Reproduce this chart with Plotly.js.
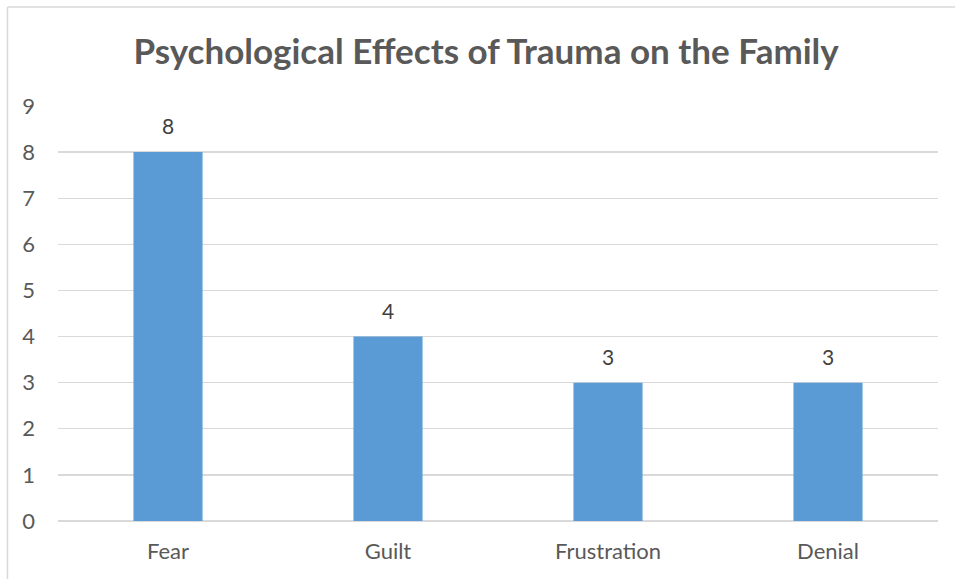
<!DOCTYPE html>
<html>
<head>
<meta charset="utf-8">
<script src="https://cdn.plot.ly/plotly-3.0.1.min.js"></script>
<style>html,body{margin:0;padding:0;background:#fff;}#chart{width:955px;height:579px;}</style>
</head>
<body>
<div id="chart"></div>
<script>
var categories = ["Fear", "Guilt", "Frustration", "Denial"];
var values = [8, 4, 3, 3];
var yTicks = [0, 1, 2, 3, 4, 5, 6, 7, 8, 9];
var chartTitle = "Psychological Effects of Trauma on the Family";

var fontFam = "Lato, 'Open Sans', sans-serif";
var trace = {
  type: "bar",
  x: categories,
  y: values,
  marker: {color: "#5b9bd5"},
  hoverinfo: "x+y"
};

var annotations = categories.map(function(c, i) {
  return {
    x: c, y: values[i], xref: "x", yref: "y",
    text: String(values[i]), showarrow: false,
    yanchor: "bottom", yshift: 12,
    font: {family: fontFam, size: 21, color: "#404040"}
  };
});

var layout = {
  width: 955, height: 579,
  margin: {l: 58, r: 17, t: 106, b: 58},
  paper_bgcolor: "#ffffff",
  plot_bgcolor: "#ffffff",
  bargap: 0.686,
  showlegend: false,
  title: {
    text: "<b>" + chartTitle + "</b>",
    x: 0.509, xref: "container", xanchor: "center",
    y: 0.91, yref: "container", yanchor: "middle",
    font: {family: fontFam, size: 35, color: "#595959"}
  },
  xaxis: {
    type: "category",
    showgrid: false, zeroline: false, showline: false,
    ticks: "",
    ticklabelstandoff: 15,
    tickfont: {family: fontFam, size: 22, color: "#595959"}
  },
  yaxis: {
    range: [0, 9],
    tickvals: yTicks,
    ticktext: yTicks.map(String),
    showgrid: true, gridcolor: "#d9d9d9", gridwidth: 1.3,
    zeroline: true, zerolinecolor: "#d9d9d9", zerolinewidth: 1.3,
    showline: false, ticks: "",
    ticklabelstandoff: 22,
    tickfont: {family: fontFam, size: 22, color: "#595959"}
  },
  annotations: annotations,
  shapes: [
    {type: "line", xref: "paper", yref: "paper", x0: -0.0574, x1: -0.0574, y0: 1.2386, y1: -0.2, line: {color: "#d9d9d9", width: 1.5}},
    {type: "line", xref: "paper", yref: "paper", x0: -0.0574, x1: 1.03, y0: 1.2386, y1: 1.2386, line: {color: "#d9d9d9", width: 1.5}}
  ]
};

Plotly.newPlot("chart", [trace], layout, {displayModeBar: false, staticPlot: true});
</script>
</body>
</html>
